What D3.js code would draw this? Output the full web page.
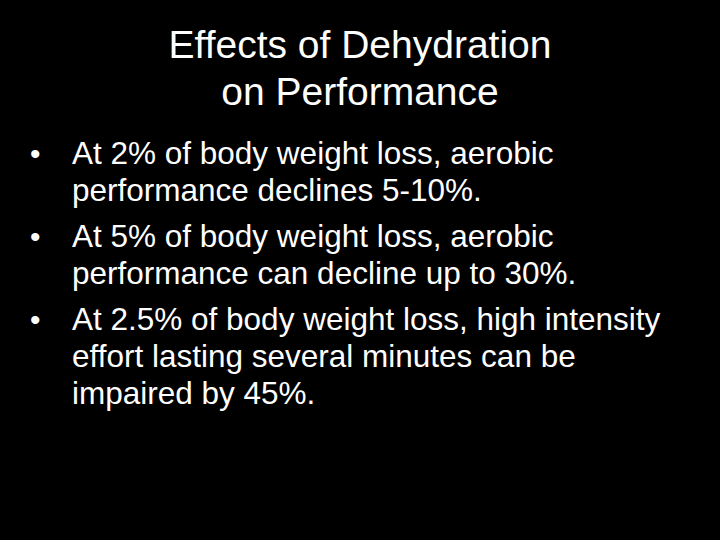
<!DOCTYPE html>
<html><head><meta charset="utf-8">
<script src="https://cdn.jsdelivr.net/npm/d3@7"></script>
<style>html,body{margin:0;padding:0;background:#000;}</style>
</head><body>
<script>
const titleLines = ["Effects of Dehydration", "on Performance"];
const bullets = [
  ["At 2% of body weight loss, aerobic", "performance declines 5-10%."],
  ["At 5% of body weight loss, aerobic", "performance can decline up to 30%."],
  ["At 2.5% of body weight loss, high intensity", "effort lasting several minutes can be", "impaired by 45%."]
];
const W = 720, H = 540;
const svg = d3.select("body").append("svg").attr("width", W).attr("height", H);
svg.append("rect").attr("width", W).attr("height", H).attr("fill", "#000");
const font = "'Liberation Sans', Arial, sans-serif";
svg.selectAll("text.title").data(titleLines).join("text")
  .attr("class", "title").attr("x", 360).attr("y", (d, i) => 58 + i * 47)
  .attr("text-anchor", "middle").attr("fill", "#fff")
  .attr("font-family", font).attr("font-size", 39).text(d => d);
let y = 164;
const lineH = 37, gap = 9;
bullets.forEach(b => {
  svg.append("text").attr("x", 30).attr("y", y).attr("fill", "#fff")
    .attr("font-family", font).attr("font-size", 30).text("•");
  b.forEach((l, i) => {
    svg.append("text").attr("x", 72).attr("y", y + i * lineH).attr("fill", "#fff")
      .attr("font-family", font).attr("font-size", 31.5).text(l);
  });
  y += b.length * lineH + gap;
});
</script>
</body></html>
